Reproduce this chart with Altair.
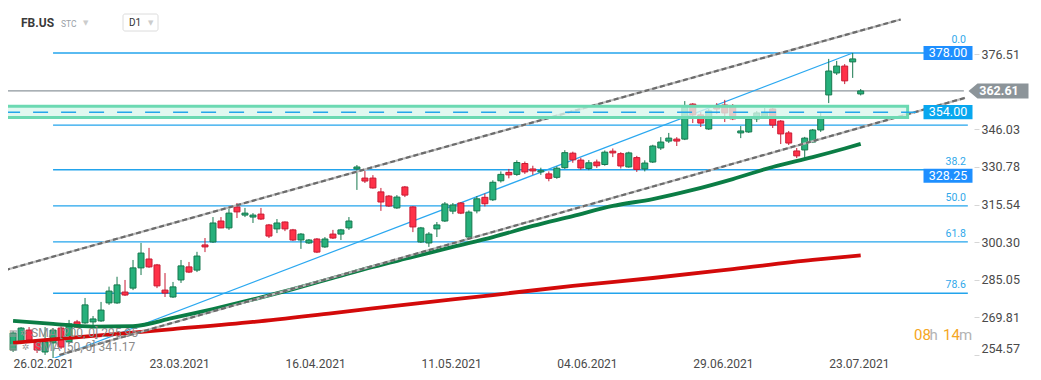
import altair as alt
import pandas as pd

# ---------------- values ----------------
opens = [257.6, 260.9, 265.7, 260.9, 256.8, 260.5, 266.5, 260.9, 269.0, 268.6,
         269.0, 269.4, 276.7, 276.7, 281.1, 282.7, 290.9, 294.5, 292.1, 281.9,
         279.1, 286.0, 291.3, 290.0, 300.2, 301.4, 309.9, 307.1, 315.6, 312.3,
         311.5, 312.7, 308.3, 306.7, 309.5, 306.3, 302.2, 301.0, 302.6, 299.4,
         304.6, 304.6, 307.1, 331.0, 327.3, 327.3, 321.7, 320.0, 315.2, 323.7,
         315.6, 301.4, 301.0, 306.7, 309.9, 313.9, 317.2, 303.4, 314.0, 319.5,
         318.5, 326.2, 329.6, 328.8, 333.2, 331.0, 329.8, 329.0, 327.6, 331.5,
         337.4, 334.6, 331.2, 333.8, 332.8, 338.2, 337.2, 331.8, 335.6, 331.0,
         333.8, 339.5, 342.3, 343.1, 343.1, 357.3, 352.9, 347.2, 356.5, 356.9,
         356.5, 345.6, 346.0, 351.3, 352.1, 355.3, 350.4, 345.6, 338.3, 338.7,
         341.9, 346.8, 361.0, 369.9, 372.7, 374.4, 361.4]
highs = [265.3, 266.9, 266.9, 261.5, 266.9, 266.5, 266.9, 269.8, 269.8, 278.7,
         271.4, 277.1, 283.3, 287.3, 286.0, 294.1, 301.0, 299.0, 292.5, 288.8,
         285.2, 294.1, 293.3, 297.4, 303.0, 311.5, 311.5, 314.8, 317.2, 315.2,
         313.1, 315.2, 308.7, 310.7, 309.7, 306.7, 305.0, 302.6, 303.0, 303.4,
         306.3, 306.7, 311.5, 332.6, 330.2, 328.5, 323.3, 320.4, 320.4, 324.1,
         315.9, 307.5, 305.4, 309.5, 317.6, 317.2, 317.6, 314.2, 320.0, 321.0,
         326.4, 330.0, 331.0, 334.5, 334.0, 332.3, 331.5, 330.0, 332.0, 338.6,
         338.0, 335.5, 334.6, 334.8, 338.5, 339.3, 337.8, 338.0, 336.3, 334.5,
         340.8, 343.9, 345.6, 343.9, 358.5, 357.7, 354.1, 355.3, 357.7, 359.0,
         357.3, 348.4, 351.7, 354.5, 355.7, 355.7, 350.8, 346.4, 339.5, 344.0,
         347.2, 353.7, 375.6, 374.8, 373.5, 378.0, 363.4]
lows = [256.8, 260.0, 261.0, 256.4, 255.6, 254.2, 258.0, 260.0, 266.5, 268.2,
        266.5, 269.0, 275.9, 276.3, 279.5, 281.9, 288.0, 290.9, 282.7, 279.1,
        278.7, 284.8, 288.8, 289.2, 297.3, 301.0, 307.0, 306.3, 311.1, 311.5,
        309.1, 310.3, 303.0, 305.0, 305.8, 301.8, 298.6, 300.6, 296.9, 299.0,
        302.6, 302.2, 306.3, 322.5, 325.3, 323.0, 314.0, 315.6, 314.8, 319.6,
        305.4, 301.0, 299.4, 303.4, 309.5, 312.7, 312.7, 302.6, 313.0, 315.8,
        318.0, 325.5, 327.2, 328.2, 329.0, 328.6, 328.6, 326.0, 327.0, 331.0,
        333.5, 330.6, 330.5, 331.4, 332.3, 335.8, 331.2, 331.5, 329.8, 330.0,
        333.4, 338.7, 341.5, 340.3, 342.7, 349.6, 348.0, 346.8, 353.3, 350.0,
        350.8, 343.5, 345.6, 350.0, 351.7, 347.6, 341.1, 340.7, 335.4, 335.4,
        341.5, 346.0, 357.7, 369.1, 365.4, 367.9, 360.8]
closes = [264.5, 266.5, 261.7, 257.6, 260.9, 265.7, 258.8, 268.2, 266.9, 275.9,
          270.2, 273.8, 281.5, 284.0, 279.9, 290.9, 296.9, 291.3, 283.6, 280.7,
          283.2, 291.7, 289.2, 295.7, 299.4, 309.1, 307.1, 313.1, 313.6, 313.1,
          312.3, 310.7, 303.8, 309.1, 306.7, 302.2, 304.6, 302.2, 297.3, 302.6,
          303.0, 306.3, 309.9, 331.8, 326.1, 323.3, 317.6, 316.0, 319.6, 320.4,
          307.5, 307.1, 304.6, 308.3, 316.8, 316.4, 313.1, 313.5, 318.9, 316.9,
          325.6, 328.8, 328.6, 333.6, 329.8, 330.2, 330.3, 327.2, 331.3, 337.6,
          334.7, 331.4, 333.5, 332.3, 337.8, 337.5, 332.2, 337.5, 330.8, 333.4,
          340.3, 341.9, 343.5, 342.3, 356.1, 352.9, 349.6, 354.5, 355.3, 353.7,
          351.3, 346.4, 351.3, 353.7, 353.7, 348.8, 345.2, 341.5, 336.3, 343.5,
          346.8, 352.1, 370.7, 372.7, 366.7, 375.6, 362.61]

tick_dates = ["26.02.2021", "23.03.2021", "16.04.2021", "11.05.2021",
              "04.06.2021", "29.06.2021", "23.07.2021"]
tick_every = 17
price_ticks = [376.51, 346.03, 330.78, 315.54, 300.30, 285.05, 269.81, 254.57]

sma50_idx = [0, 5, 10, 15, 20, 25, 30, 35, 40, 45, 50, 55, 60, 65, 70, 75,
             80, 85, 90, 95, 100, 104, 106]
sma50_val = [269.4, 268.2, 267.1, 267.3, 270.6, 274.2, 278.1, 282.3, 286.8,
             291.3, 295.3, 299.4, 303.4, 307.9, 311.9, 316.0, 318.8, 322.5,
             326.9, 331.8, 335.8, 339.3, 341.17]
sma200_idx = [0, 10, 20, 30, 40, 50, 60, 70, 80, 90, 100, 106]
sma200_val = [260.5, 263.3, 266.1, 269.0, 272.6, 276.3, 279.9, 283.6, 286.8,
              290.4, 294.1, 295.95]
legend_rows = ["SMA [200, 0] 295.95", "SMA [50, 0] 341.17"]

fib_high = 378.00
fib_low = 254.10
fib_levels = [0.0, 23.6, 38.2, 50.0, 61.8, 78.6]
fib_texts = ["0.0", "", "38.2", "50.0", "61.8", "78.6"]
fib_start_idx = 5

upper_channel_idx = [-1.0, 111.0]
upper_channel_val = [290.0, 391.6]
lower_channel_idx = [5.8, 119.05]
lower_channel_val = [255.6, 359.8]
trend_idx = [5, 105]
trend_val = [254.1, 378.0]

zone_idx = [-1.0, 111.87]
zone_val = [356.4, 351.9]
dashed_level = 354.00
dashed_idx = [-1.0, 113.4]
current_price = 362.61
current_idx = [-1.0, 118.9]

box_texts = ["378.00", "354.00", "328.25"]
box_values = [378.00, 354.00, 328.25]
box_colors = ["#1e8fff", "#08a7ef", "#1e8fff"]

# ---------------- scales / layout ----------------
W, H = 966, 350
XD = [-0.01, 119.545]
YD = [254.37, 396.24]
xs = alt.Scale(domain=XD, nice=False, zero=False)
ys = alt.Scale(domain=YD, nice=False, zero=False)
FONT = "Roboto"
BLUE = "#23a4ec"

n = len(opens)
candles = pd.DataFrame({"idx": list(range(n)), "open": opens, "high": highs,
                        "low": lows, "close": closes})
candles["dir"] = ["up" if c >= o else "down" for o, c in zip(opens, closes)]

label_expr = "[" + ",".join("'%s'" % d for d in tick_dates) + "][round(datum.value/%d)]" % tick_every
x_axis = alt.Axis(values=[i * tick_every for i in range(len(tick_dates))], labelExpr=label_expr,
                  labelAlign="left", labelFlush=False, ticks=False, domain=False, grid=False,
                  labelPadding=0, labelColor="#4a4a4a", labelFontSize=12, labelFont=FONT,
                  title=None, labelBaseline="top")
y_axis = alt.Axis(orient="right", values=price_ticks, format=".2f", grid=False, domain=False,
                  tickColor="#d6d6d6", tickSize=5, tickOffset=-2.5, labelPadding=2,
                  labelColor="#4a4a4a", labelFontSize=12.5, labelFont=FONT, labelFlush=4,
                  title=None)


def X(field):
    return alt.X(field, scale=xs, axis=x_axis, title=None)


def Y(field):
    return alt.Y(field, scale=ys, axis=y_axis, title=None)


stroke_scale = alt.Scale(domain=["up", "down"], range=["#17784e", "#c81a33"])
fill_scale = alt.Scale(domain=["up", "down"], range=["#26b07b", "#ff3148"])

one = pd.DataFrame({"a": [0]})

# fib levels
fib_df = pd.DataFrame({
    "lvl": fib_levels,
    "price": [fib_high - (fib_high - fib_low) * l / 100 for l in fib_levels],
    "label": fib_texts,
})
fib_df["x1"] = fib_start_idx
fib_df["x2"] = 119.4

fib_rules = alt.Chart(fib_df).mark_rule(color=BLUE, strokeWidth=1.3).encode(
    x=X("x1:Q"), x2="x2:Q", y=Y("price:Q"))

cur_df = pd.DataFrame({"x1": [current_idx[0]], "x2": [current_idx[1]], "p": [current_price]})
cur_rule = alt.Chart(cur_df).mark_rule(color="#8d969c", strokeWidth=1.2, clip=True).encode(
    x=X("x1:Q"), x2="x2:Q", y=Y("p:Q"))

trend_df = pd.DataFrame({"idx": trend_idx, "v": trend_val})
trend = alt.Chart(trend_df).mark_line(color="#2ba8f0", strokeWidth=1.2, clip=True).encode(
    x=X("idx:Q"), y=Y("v:Q"))

wicks = alt.Chart(candles).mark_rule(strokeWidth=1, clip=True).encode(
    x=X("idx:Q"), y=Y("low:Q"), y2="high:Q",
    stroke=alt.Stroke("dir:N", scale=stroke_scale, legend=None))

bodies = alt.Chart(candles).mark_bar(size=6, strokeWidth=1, clip=True).encode(
    x=X("idx:Q"), y=Y("open:Q"), y2="close:Q",
    fill=alt.Fill("dir:N", scale=fill_scale, legend=None),
    stroke=alt.Stroke("dir:N", scale=stroke_scale, legend=None))

sma200_df = pd.DataFrame({"idx": sma200_idx, "v": sma200_val})
sma200 = alt.Chart(sma200_df).mark_line(color="#d30a0a", strokeWidth=3.8, clip=True,
                                         interpolate="monotone").encode(
    x=X("idx:Q"), y=Y("v:Q"))
sma50_df = pd.DataFrame({"idx": sma50_idx, "v": sma50_val})
sma50 = alt.Chart(sma50_df).mark_line(color="#0b7d45", strokeWidth=3.8, clip=True,
                                       interpolate="monotone").encode(
    x=X("idx:Q"), y=Y("v:Q"))

chan_df = pd.DataFrame({
    "idx": upper_channel_idx + lower_channel_idx,
    "v": upper_channel_val + lower_channel_val,
    "line": ["upper", "upper", "lower", "lower"],
})
chan_base = alt.Chart(chan_df).mark_line(color="#bdbdbd", strokeWidth=2.2, clip=True).encode(
    x=X("idx:Q"), y=Y("v:Q"), detail="line:N")
chan_dash = alt.Chart(chan_df).mark_line(color="#6b6b6b", strokeWidth=2.2, strokeDash=[5, 3],
                                         clip=True).encode(
    x=X("idx:Q"), y=Y("v:Q"), detail="line:N")

zone_df = pd.DataFrame({"x1": [zone_idx[0]], "x2": [zone_idx[1]],
                        "top": [zone_val[0]], "bot": [zone_val[1]]})
zone = alt.Chart(zone_df).mark_rect(fill="#d8f6ec", fillOpacity=0.78, stroke="#6bd9b2",
                                    strokeWidth=3, clip=True).encode(
    x=X("x1:Q"), x2="x2:Q", y=Y("top:Q"), y2="bot:Q")

dash_df = pd.DataFrame({"x1": [dashed_idx[0]], "x2": [dashed_idx[1]], "p": [dashed_level]})
dash_rule = alt.Chart(dash_df).mark_rule(color="#25a6ea", strokeWidth=1.5, strokeDash=[15, 13],
                                         clip=True).encode(
    x=X("x1:Q"), x2="x2:Q", y=Y("p:Q"))

fib_labels_top = alt.Chart(fib_df).transform_filter("datum.lvl == 0").mark_text(
    align="right", baseline="alphabetic", dy=-10, fontSize=10.5, font=FONT,
    color="#2fa8ea").encode(x=alt.value(958), y=Y("price:Q"), text="label:N")
fib_labels = alt.Chart(fib_df).transform_filter("datum.lvl > 0").mark_text(
    align="right", baseline="alphabetic", dy=-5, fontSize=10.5, font=FONT,
    color="#2fa8ea").encode(x=alt.value(958), y=Y("price:Q"), text="label:N")

box_df = pd.DataFrame({"t": box_texts, "p": box_values, "c": box_colors})
boxes = alt.Chart(box_df).mark_point(
    shape="M-1,-0.29L1,-0.29L1,0.29L-1,0.29Z", size=2401, filled=True, opacity=1,
    strokeWidth=0).encode(
    x=alt.value(940), y=Y("p:Q"),
    color=alt.Color("c:N", scale=None, legend=None))
box_text = alt.Chart(box_df).mark_text(color="white", fontSize=12.5, font=FONT,
                                       baseline="middle", align="center").encode(
    x=alt.value(940), y=Y("p:Q"), text="t:N")

ptr_df = pd.DataFrame({"p": [current_price], "t": ["%.2f" % current_price]})
pointer = alt.Chart(ptr_df).mark_point(
    shape="M-1,0L-0.7,-0.25L1,-0.25L1,0.25L-0.7,0.25Z", size=3600, filled=True,
    opacity=1, strokeWidth=0, color="#8c9499").encode(
    x=alt.value(990.5), y=Y("p:Q"))
pointer_text = alt.Chart(ptr_df).mark_text(color="white", fontSize=12.5, fontWeight="bold",
                                           font=FONT, baseline="middle", align="center").encode(
    x=alt.value(991), y=Y("p:Q"), text="t:N")


def label(txt, x, y, size=12, color="#333", weight="normal", align="left", font=FONT):
    return alt.Chart(one).mark_text(text=txt, fontSize=size, color=color, fontWeight=weight,
                                    align=align, baseline="middle", font=font).encode(
        x=alt.value(x), y=alt.value(y))


d1_box = alt.Chart(one).mark_rect(fill="white", stroke="#dcdcdc", strokeWidth=1,
                                  cornerRadius=2).encode(
    x=alt.value(115), x2=alt.value(150), y=alt.value(6), y2=alt.value(23))

ui = [
    label("FB.US", 13, 15, 12, "#3a3a3a", "bold"),
    label("STC", 53, 15.5, 8.5, "#9aa0a6"),
    label("▼", 75, 14.5, 7, "#cccccc", font="DejaVu Sans"),
    d1_box,
    label("D1", 121, 15, 10, "#333333"),
    label("▼", 140, 15, 7, "#cccccc", font="DejaVu Sans"),
    label("▤", 1, 325, 9, "#9a9a9a", font="DejaVu Sans"),
    label("✲", 12, 325, 9, "#9a9a9a", font="DejaVu Sans"),
    label(legend_rows[0], 23, 325, 12, "#8a8a8a"),
    label("▤", 1, 339, 9, "#9a9a9a", font="DejaVu Sans"),
    label("✲", 14, 339, 9, "#9a9a9a", font="DejaVu Sans"),
    label(legend_rows[1], 27, 339, 12, "#8a8a8a"),
    label("08", 906, 327, 15, "#f5a623"),
    label("h", 921.5, 327, 15, "#b3b3b3"),
    label("14", 935, 327, 15, "#f5a623"),
    label("m", 951, 327, 15, "#b3b3b3"),
]

chart = alt.layer(
    fib_rules, cur_rule, trend, wicks, bodies, sma200, sma50, chan_base, chan_dash,
    zone, dash_rule, fib_labels_top, fib_labels, boxes, box_text, pointer, pointer_text, *ui
).properties(
    width=W, height=H,
    autosize=alt.AutoSizeParams(type="none"),
    padding={"left": 0, "top": 0, "right": 59, "bottom": 14},
    background="white",
).configure_view(stroke=None)

chart.save("out.html", embed_options={"renderer": "svg", "actions": False})
